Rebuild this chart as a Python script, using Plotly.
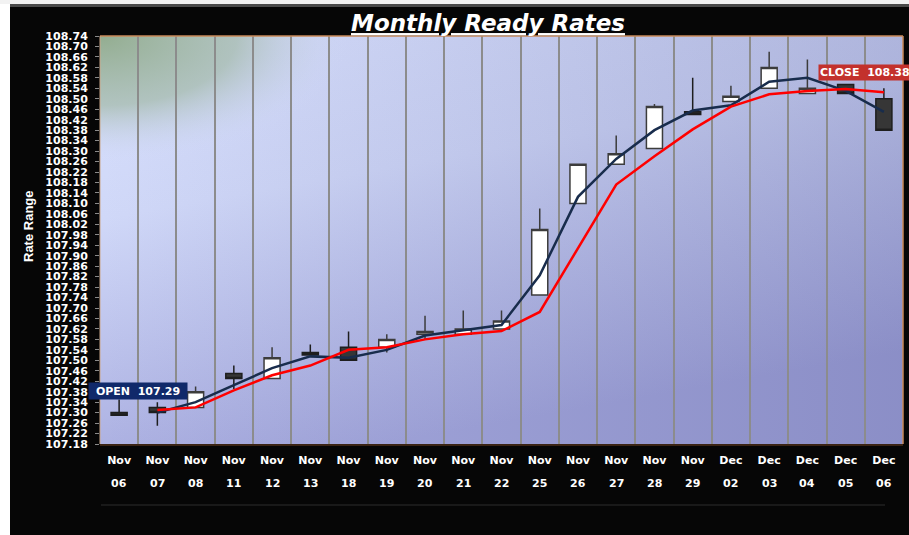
import base64
import plotly.graph_objects as go

# ---------------- data ----------------
months = ["Nov"] * 16 + ["Dec"] * 5
days = ["06", "07", "08", "11", "12", "13", "18", "19", "20", "21", "22",
        "25", "26", "27", "28", "29", "02", "03", "04", "05", "06"]
categories = [f"{m} {d}" for m, d in zip(months, days)]

open_ = [107.30, 107.32, 107.32, 107.45, 107.43, 107.53, 107.55, 107.55, 107.60, 107.60, 107.62,
         107.75, 108.10, 108.25, 108.31, 108.45, 108.49, 108.54, 108.52, 108.555, 108.50]
high = [107.35, 107.34, 107.40, 107.48, 107.55, 107.56, 107.61, 107.60, 107.67, 107.69, 107.69,
        108.08, 108.25, 108.36, 108.48, 108.58, 108.55, 108.68, 108.65, 108.555, 108.54]
low = [107.29, 107.25, 107.32, 107.39, 107.43, 107.52, 107.50, 107.53, 107.58, 107.60, 107.62,
       107.75, 108.10, 108.25, 108.31, 108.44, 108.49, 108.54, 108.52, 108.52, 108.38]
close = [107.29, 107.30, 107.38, 107.43, 107.51, 107.52, 107.50, 107.58, 107.61, 107.62, 107.65,
         108.00, 108.25, 108.29, 108.47, 108.44, 108.51, 108.62, 108.54, 108.52, 108.38]

avg_fast = [None, 107.30, 107.34, 107.405, 107.47, 107.515, 107.51, 107.54, 107.595, 107.615, 107.635,
            107.825, 108.125, 108.27, 108.38, 108.455, 108.475, 108.565, 108.58, 108.53, 108.45]
avg_slow = [None, 107.31, 107.32, 107.385, 107.443, 107.48, 107.54, 107.55, 107.58, 107.60, 107.612,
            107.685, 107.93, 108.172, 108.28, 108.383, 108.47, 108.517, 108.53, 108.537, 108.525]

open_label_value = 107.29
close_label_value = 108.38

y_min, y_max, y_step = 107.18, 108.74, 0.04

# ---------------- layout geometry ----------------
W, H = 909, 535
ML, MR, MT, MB = 100, 6, 36, 91
PW, PH = W - ML - MR, H - MT - MB


def px(p):
    return (p - ML) / PW


def py(q):
    return (H - MB - q) / PH


# background gradient for plot area
svg = f"""<svg xmlns="http://www.w3.org/2000/svg" width="{PW}" height="{PH}" viewBox="0 0 {PW} {PH}" preserveAspectRatio="none">
<defs>
<linearGradient id="g" x1="0" y1="0" x2="0.35" y2="1">
<stop offset="0" stop-color="#d8e0fd"/>
<stop offset="0.4" stop-color="#d0d8f8"/>
<stop offset="1" stop-color="#a6aade"/>
</linearGradient>
<linearGradient id="h" x1="0" y1="0" x2="1" y2="0">
<stop offset="0" stop-color="#20206a" stop-opacity="0"/>
<stop offset="1" stop-color="#20206a" stop-opacity="0.2"/>
</linearGradient>
<radialGradient id="r" cx="0" cy="0" r="0.31">
<stop offset="0" stop-color="#93ad90" stop-opacity="1"/>
<stop offset="0.55" stop-color="#a5bbac" stop-opacity="0.75"/>
<stop offset="1" stop-color="#d2daf9" stop-opacity="0"/>
</radialGradient>
</defs>
<rect width="{PW}" height="{PH}" fill="url(#g)"/>
<rect width="{PW}" height="{PH}" fill="url(#h)"/>
<rect width="{PW}" height="{PH}" fill="url(#r)"/>
</svg>"""
bg_uri = "data:image/svg+xml;base64," + base64.b64encode(svg.encode()).decode()

fig = go.Figure()

fig.add_trace(go.Candlestick(
    x=categories, open=open_, high=high, low=low, close=close,
    increasing=dict(line=dict(color="#3c3c3c", width=1.5), fillcolor="#ffffff"),
    decreasing=dict(line=dict(color="#1e1e1e", width=1.5), fillcolor="#363636"),
    whiskerwidth=0, showlegend=False, hoverinfo="skip",
))
fig.add_trace(go.Scatter(
    x=categories, y=avg_fast, mode="lines",
    line=dict(color="#182c4c", width=2.5), showlegend=False, hoverinfo="skip",
))
fig.add_trace(go.Scatter(
    x=categories, y=avg_slow, mode="lines",
    line=dict(color="#ff0000", width=2.5), showlegend=False, hoverinfo="skip",
))

tick_font = dict(family="DejaVu Sans", size=11, color="white", weight="bold")

fig.update_layout(
    width=W, height=H,
    margin=dict(l=ML, r=MR, t=MT, b=MB, pad=0, autoexpand=False),
    paper_bgcolor="#060606",
    plot_bgcolor="rgba(0,0,0,0)",
    boxgap=0.4,
    title=dict(
        text="Monthly Ready Rates",
        x=488 / W, xref="container", xanchor="center",
        y=1 - 23 / H, yref="container", yanchor="middle",
        font=dict(family="DejaVu Sans", size=23, color="white", weight="bold",
                  style="italic", lineposition="under"),
    ),
    xaxis=dict(
        type="category",
        categoryorder="array", categoryarray=categories,
        range=[-0.5, len(categories) - 0.5],
        tickvals=categories, ticktext=months,
        tickson="boundaries",
        ticks="", ticklabelstandoff=5,
        tickfont=tick_font,
        showgrid=True, gridcolor="#8c8c8c", gridwidth=1.5,
        showline=True, linecolor="#3b2414", linewidth=2,
        rangeslider=dict(visible=False),
        fixedrange=True,
    ),
    xaxis2=dict(
        overlaying="x", anchor="y", side="bottom",
        range=[-0.5, len(categories) - 0.5],
        tick0=-0.5, dtick=1,
        ticks="outside", ticklen=46, tickcolor="#1e1e1e", tickwidth=1,
        showticklabels=False, showgrid=False, zeroline=False, showline=False,
        fixedrange=True,
    ),
    yaxis=dict(
        range=[y_min, y_max],
        tick0=y_min, dtick=y_step, tickformat=".2f",
        ticks="outside", ticklen=4, tickcolor="#8a8a8a", tickwidth=1,
        ticklabelstandoff=5,
        tickfont=tick_font,
        showgrid=False, zeroline=False,
        showline=False,
        fixedrange=True,
    ),
    images=[dict(
        source=bg_uri, xref="paper", yref="paper", x=0, y=1, sizex=1, sizey=1,
        xanchor="left", yanchor="top", sizing="stretch", layer="below",
    )],
)

shapes = [
    # white page strip on the left and top
    dict(type="rect", xref="paper", yref="paper", x0=px(0), x1=px(10), y0=py(H), y1=py(0),
         fillcolor="#ffffff", line=dict(width=0), layer="above"),
    dict(type="rect", xref="paper", yref="paper", x0=px(0), x1=px(W), y0=py(4), y1=py(0),
         fillcolor="#f2f2f2", line=dict(width=0), layer="above"),
    dict(type="rect", xref="paper", yref="paper", x0=px(10), x1=px(W), y0=py(7), y1=py(4),
         fillcolor="#4a4a4a", line=dict(width=0), layer="above"),
    # plot frame
    dict(type="line", xref="paper", yref="paper", x0=0, x1=1, y0=1, y1=1,
         line=dict(color="#c98a5a", width=1.5), layer="above"),
    dict(type="line", xref="paper", yref="paper", x0=1, x1=1, y0=0, y1=1,
         line=dict(color="#c98a5a", width=1.5), layer="above"),
    dict(type="line", xref="paper", yref="paper", x0=0, x1=0, y0=0, y1=1,
         line=dict(color="#c9a68a", width=1), layer="above"),
    # faint separator below the labels
    dict(type="line", xref="paper", yref="paper", x0=px(101), x1=px(885), y0=py(505), y1=py(505),
         line=dict(color="#202020", width=1.5), layer="above"),
]
fig.update_layout(shapes=shapes)

annotations = []
for cat, d in zip(categories, days):
    annotations.append(dict(
        x=cat, xref="x", y=py(483), yref="paper", text=d, showarrow=False,
        xanchor="center", yanchor="middle", font=tick_font,
    ))

annotations.append(dict(
    x=px(28), xref="paper", y=py(226), yref="paper", text="Rate Range",
    textangle=-90, showarrow=False, xanchor="center", yanchor="middle",
    font=dict(family="Liberation Sans Narrow, Liberation Sans",
              size=13, color="white", weight="bold"),
))

annotations.append(dict(
    x=categories[0], xref="x", y=open_label_value, yref="y",
    text=f"OPEN  {open_label_value:.2f}", showarrow=False,
    xanchor="center", yanchor="middle", xshift=18.4, yshift=24.2,
    bgcolor="#10296a", borderpad=1, width=96, height=14,
    font=dict(family="DejaVu Sans", size=11, color="white", weight="bold"),
))
annotations.append(dict(
    x=categories[-1], xref="x", y=close_label_value, yref="y",
    text=f"CLOSE  {close_label_value:.2f}", showarrow=False,
    xanchor="left", yanchor="middle", align="left", xshift=-66, yshift=58,
    bgcolor="#c3312c", borderpad=1, width=108, height=13,
    font=dict(family="DejaVu Sans", size=11, color="white", weight="bold"),
))
fig.update_layout(annotations=annotations)

fig.write_html("out.html", config={"displayModeBar": False},
               post_script="document.body.style.margin='0';")
